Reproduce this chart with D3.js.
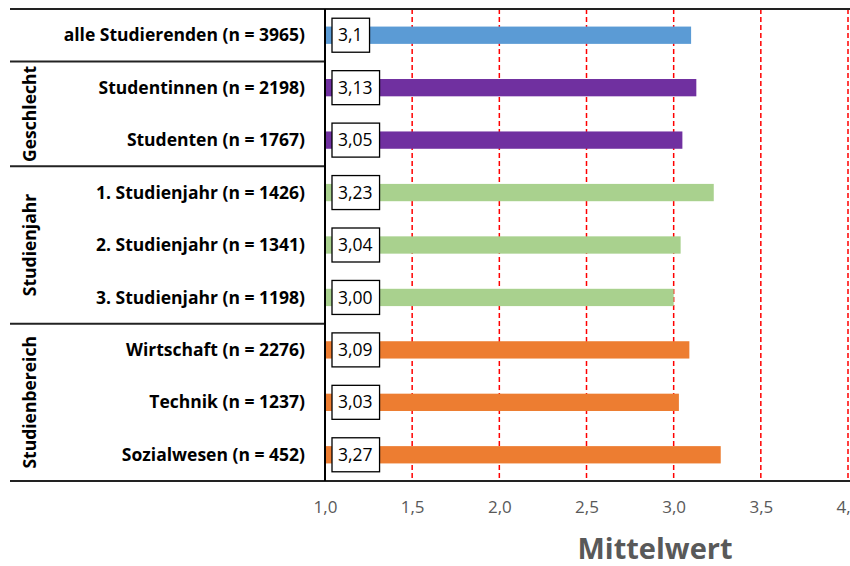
<!DOCTYPE html>
<html>
<head>
<meta charset="utf-8">
<script src="https://cdn.jsdelivr.net/npm/d3@7"></script>
<style>
  body { margin: 0; background: #fff; }
  svg { display: block; font-family: "Open Sans", "Noto Sans", sans-serif; }
</style>
</head>
<body>
<svg id="chart" width="850" height="566"></svg>
<script>
var categories = [
    "alle Studierenden (n = 3965)",
    "Studentinnen (n = 2198)",
    "Studenten (n = 1767)",
    "1. Studienjahr (n = 1426)",
    "2. Studienjahr (n = 1341)",
    "3. Studienjahr (n = 1198)",
    "Wirtschaft (n = 2276)",
    "Technik (n = 1237)",
    "Sozialwesen (n = 452)"
];
var values = [3.1, 3.13, 3.05, 3.23, 3.04, 3.00, 3.09, 3.03, 3.27];
var valueLabels = ["3,1", "3,13", "3,05", "3,23", "3,04", "3,00", "3,09", "3,03", "3,27"];
var rowGroup = ["alle", "Geschlecht", "Geschlecht", "Studienjahr", "Studienjahr", "Studienjahr",
                "Studienbereich", "Studienbereich", "Studienbereich"];
var groupNames = ["Geschlecht", "Studienjahr", "Studienbereich"];
var tickValues = [1.0, 1.5, 2.0, 2.5, 3.0, 3.5, 4.0];
var axisTitle = "Mittelwert";

var groupColors = {
    alle: "#5b9bd5",
    Geschlecht: "#7030a0",
    Studienjahr: "#a9d18e",
    Studienbereich: "#ed7d31"
};

var svg = d3.select("#chart");
var plotTop = 9, plotBottom = 481, plotLeft = 325, tableLeft = 10;

var x = d3.scaleLinear().domain([1, 4]).range([plotLeft, 848]);
var y = d3.scaleBand().domain(categories).range([plotTop, plotBottom]).paddingInner(0.67).paddingOuter(0.335);
var rowY = d3.scaleBand().domain(categories).range([plotTop, plotBottom]);

// red dashed gridlines
svg.append("g").selectAll("line")
    .data(tickValues.slice(1))
    .enter().append("line")
    .attr("x1", function(d){ return x(d); })
    .attr("x2", function(d){ return x(d); })
    .attr("y1", plotTop).attr("y2", plotBottom)
    .attr("stroke", "#ff0000")
    .attr("stroke-width", 1.5)
    .attr("stroke-dasharray", "5,3");

// bars
svg.append("g").selectAll("rect")
    .data(values)
    .enter().append("rect")
    .attr("x", x(1))
    .attr("y", function(d, i){ return y(categories[i]); })
    .attr("width", function(d){ return x(d) - x(1); })
    .attr("height", y.bandwidth())
    .attr("fill", function(d, i){ return groupColors[rowGroup[i]]; });

// value label boxes
var lab = svg.append("g").selectAll("g")
    .data(values)
    .enter().append("g")
    .attr("transform", function(d, i){
        return "translate(" + (x(1) + 7) + "," + (rowY(categories[i]) + rowY.bandwidth() / 2) + ")";
    });
lab.append("text")
    .attr("x", 6)
    .attr("y", 0)
    .attr("dy", "0.35em")
    .attr("font-size", 17.5)
    .attr("fill", "#000")
    .text(function(d, i){ return valueLabels[i]; })
    .each(function(){
        var w = this.getComputedTextLength();
        d3.select(this.parentNode).insert("rect", "text")
            .attr("x", 0).attr("y", -17)
            .attr("width", w + 13).attr("height", 34)
            .attr("fill", "#fff")
            .attr("stroke", "#000")
            .attr("stroke-width", 1.3);
    });

// category labels
svg.append("g").selectAll("text")
    .data(categories)
    .enter().append("text")
    .attr("x", 305)
    .attr("y", function(d){ return rowY(d) + rowY.bandwidth() / 2; })
    .attr("dy", "0.35em")
    .attr("text-anchor", "end")
    .attr("font-size", 17.5)
    .attr("font-weight", "bold")
    .attr("fill", "#000")
    .text(function(d){ return d; });

// group labels (rotated)
groupNames.forEach(function(g){
    var rows = categories.filter(function(c, i){ return rowGroup[i] === g; });
    var y0 = rowY(rows[0]), y1 = rowY(rows[rows.length - 1]) + rowY.bandwidth();
    svg.append("text")
        .attr("transform", "translate(30," + ((y0 + y1) / 2) + ") rotate(-90)")
        .attr("dy", "0.35em")
        .attr("text-anchor", "middle")
        .attr("font-size", 17.5)
        .attr("font-weight", "bold")
        .attr("fill", "#000")
        .text(g);
});

// table lines
var sepRows = [categories[1], categories[3], categories[6]];
svg.append("g").selectAll("line")
    .data(sepRows)
    .enter().append("line")
    .attr("x1", tableLeft).attr("x2", plotLeft)
    .attr("y1", function(d){ return rowY(d); })
    .attr("y2", function(d){ return rowY(d); })
    .attr("stroke", "#222").attr("stroke-width", 2);

svg.append("line")
    .attr("x1", tableLeft).attr("x2", 850)
    .attr("y1", plotTop).attr("y2", plotTop)
    .attr("stroke", "#222").attr("stroke-width", 2);
svg.append("line")
    .attr("x1", tableLeft).attr("x2", 850)
    .attr("y1", plotBottom).attr("y2", plotBottom)
    .attr("stroke", "#222").attr("stroke-width", 2);
svg.append("line")
    .attr("x1", plotLeft).attr("x2", plotLeft)
    .attr("y1", plotTop).attr("y2", plotBottom)
    .attr("stroke", "#000").attr("stroke-width", 2);

// x axis
var xAxis = d3.axisBottom(x)
    .tickValues(tickValues)
    .tickSize(0)
    .tickPadding(20)
    .tickFormat(function(d){ return d3.format(".1f")(d).replace(".", ","); });
var gx = svg.append("g")
    .attr("transform", "translate(0," + plotBottom + ")")
    .call(xAxis);
gx.select(".domain").remove();
gx.selectAll("text")
    .attr("font-family", "\"Open Sans\", \"Noto Sans\", sans-serif")
    .attr("font-size", 17)
    .attr("fill", "#595959");

svg.append("text")
    .attr("x", 655)
    .attr("y", 559)
    .attr("text-anchor", "middle")
    .attr("font-size", 29)
    .attr("font-weight", "bold")
    .attr("fill", "#595959")
    .text(axisTitle);
</script>
</body>
</html>
